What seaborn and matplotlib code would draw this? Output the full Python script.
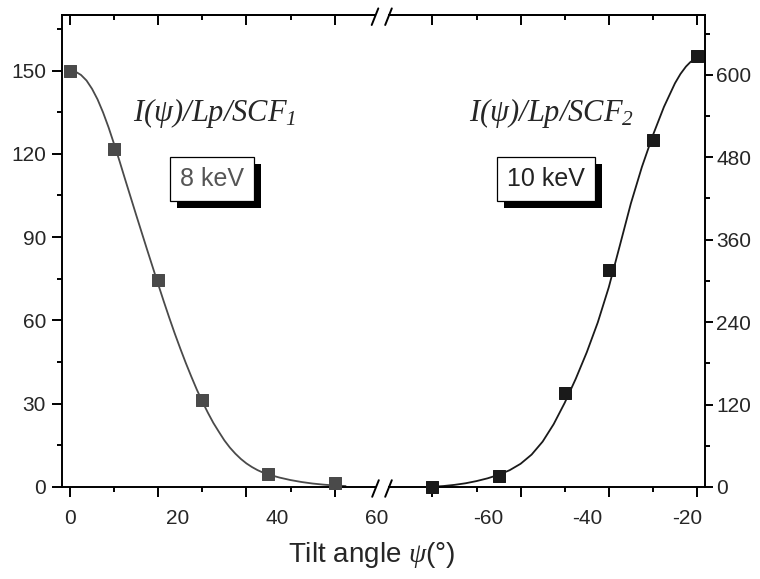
import numpy as np
import pandas as pd
import seaborn as sns
import matplotlib.pyplot as plt
import matplotlib.patheffects as pe
from matplotlib.lines import Line2D
from matplotlib.ticker import MultipleLocator
from matplotlib import transforms

# measured points (left: 8 keV, right: 10 keV)
psi_8kev = [0, 10, 20, 30, 45, 60]
int_8kev = [150, 121.8, 74.5, 31.3, 4.6, 1.3]
psi_10kev = [-80, -65, -50, -40, -30, -20]
int_10kev = [0.3, 16.5, 137, 316, 505, 628]

# fitted curves
fit_psi_8kev = [0, 1.25, 2.5, 3.75, 5, 6.25, 7.5, 8.75, 10, 11.25, 12.5, 13.75, 15,
                16.25, 17.5, 18.75, 20, 21.25, 22.5, 23.75, 25, 26.25, 27.5, 28.75,
                30, 31.25, 32.5, 33.75, 35, 36.25, 37.5, 38.75, 40, 41.25, 42.5,
                43.75, 45, 47.5, 50, 52.5, 55, 57.5, 60, 62.5]
fit_int_8kev = [150, 149.6, 148.4, 146.4, 143.4, 139.6, 134.9, 129.5, 123.5, 117.3,
                110.8, 104.4, 98.0, 91.7, 85.4, 79.2, 73.0, 66.9, 61.0, 55.3, 49.9,
                44.7, 39.8, 35.1, 30.8, 26.8, 23.1, 19.9, 16.8, 14.2, 12.0, 10.1, 8.5,
                7.2, 6.1, 5.2, 4.5, 3.4, 2.5, 1.8, 1.25, 0.85, 0.55, 0.35]
fit_psi_10kev = [-80, -77.5, -75, -72.5, -70, -67.5, -65, -62.5, -60, -57.5, -55,
                 -52.5, -50, -47.5, -45, -42.5, -40, -37.5, -35, -32.5, -30,
                 -27.5, -25, -23.75, -22.5, -21.5, -20.5]
fit_int_10kev = [0.3, 1.4, 3.1, 5.4, 8.6, 12.6, 17.7, 24.4, 33.8, 47.2, 66.1, 91.5,
                 122.5, 157.4, 196.0, 239.5, 290.8, 351.4, 412.6, 465.7, 512, 553.2,
                 587.6, 601.2, 612, 618.5, 623]

x_ticks_left = [0, 20, 40, 60]
x_ticks_right = [-80, -60, -40, -20]
x_labels_left = ['0', '20', '40', '60']
x_labels_right = ['-60', '-40', '-20']
y_ticks_left = [0, 30, 60, 90, 120, 150]
y_ticks_right = [0, 120, 240, 360, 480, 600]

sns.set_theme(style='ticks')
plt.rcParams['font.family'] = ['Liberation Sans', 'DejaVu Sans']
plt.rcParams['mathtext.fontset'] = 'custom'
plt.rcParams['mathtext.it'] = 'Liberation Serif:italic'
plt.rcParams['mathtext.rm'] = 'Liberation Serif:italic'

W, H = 760, 579
fig = plt.figure(figsize=(W / 100, H / 100), dpi=100)
ax1 = fig.add_axes([62 / W, 1 - 487 / H, (375 - 62) / W, 472 / H])
ax2 = fig.add_axes([389 / W, 1 - 487 / H, (705 - 389) / W, 472 / H])

c1, c2 = '#4a4a4a', '#1a1a1a'
sns.lineplot(x=fit_psi_8kev, y=fit_int_8kev, ax=ax1, color=c1, lw=1.3)
sns.scatterplot(x=psi_8kev, y=int_8kev, ax=ax1, marker='s', s=80, color=c1,
                edgecolor=c1, clip_on=False, zorder=4)
sns.lineplot(x=fit_psi_10kev, y=fit_int_10kev, ax=ax2, color=c2, lw=1.3)
sns.scatterplot(x=psi_10kev, y=int_10kev, ax=ax2, marker='s', s=80, color=c2,
                edgecolor=c2, clip_on=False, zorder=4)

px = 4.41  # pixels per degree on both segments
ax1.set_xlim(-8 / px, (375 - 70) / px)
ax2.set_xlim(-20 - (697 - 389) / px, -20 + 8 / px)
ax1.set_ylim(0, 170)
ax2.set_ylim(0, 687)

lw = 1.4
for ax, side in ((ax1, 'right'), (ax2, 'left')):
    ax.set_xlabel('')
    ax.set_ylabel('')
    ax.spines[side].set_visible(False)
    for s in ax.spines.values():
        s.set_linewidth(lw)
        s.set_color('black')
    ax.tick_params(axis='x', which='both', direction='out', bottom=True, top=False,
                   labelbottom=False, width=lw, color='black')
    ax.tick_params(axis='x', which='major', length=7)
    ax.tick_params(axis='x', which='minor', length=3.5)
    ax.xaxis.set_minor_locator(MultipleLocator(10))

ax1.set_xticks(x_ticks_left)
ax2.set_xticks(x_ticks_right)

# top spine ticks point inwards
for ax, ticks in ((ax1, x_ticks_left), (ax2, x_ticks_right)):
    sec = ax.secondary_xaxis('top')
    sec.set_xticks(ticks)
    sec.xaxis.set_minor_locator(MultipleLocator(10))
    sec.tick_params(which='both', direction='in', labeltop=False, width=lw, color='black')
    sec.tick_params(which='major', length=7)
    sec.tick_params(which='minor', length=3.5)
    sec.spines['top'].set_linewidth(lw)

ax1.set_yticks(y_ticks_left)
ax1.yaxis.set_minor_locator(MultipleLocator(15))
ax1.tick_params(axis='y', which='both', direction='out', left=True, right=False,
                width=lw, labelsize=15, pad=4.5, color='black')
ax1.tick_params(axis='y', which='major', length=7)
ax1.tick_params(axis='y', which='minor', length=3.5)

ax2.set_yticks(y_ticks_right)
ax2.yaxis.set_minor_locator(MultipleLocator(60))
ax2.yaxis.tick_right()
ax2.tick_params(axis='y', which='both', direction='out', left=False, right=True,
                width=lw, labelsize=15, pad=2, color='black')
ax2.tick_params(axis='y', which='major', length=6)
ax2.tick_params(axis='y', which='minor', length=3.5)

# x tick labels sit where the original placed them
label_y = 1 - 519 / H
for ax, labels, pos in ((ax1, x_labels_left, [0, 24.5, 46.9, 69.6]),
                        (ax2, x_labels_right, [-67.4, -44.9, -22.3])):
    tr = transforms.blended_transform_factory(ax.transData, fig.transFigure)
    for lab, p in zip(labels, pos):
        ax.text(p, label_y, lab, transform=tr, ha='center', va='center', fontsize=15)

fig.text(372 / W, 1 - 555 / H, r'Tilt angle $\psi$(°)', ha='center', va='center', fontsize=20)

# series labels
fig.text(215 / W, 1 - 113 / H, r'$I(\psi)/Lp/SCF_1$', ha='center', va='center', fontsize=22)
fig.text(552 / W, 1 - 113 / H, r'$I(\psi)/Lp/SCF_2$', ha='center', va='center', fontsize=22)

# energy boxes with drop shadow
for cx, txt, tc in ((212, '8 keV', '#555555'), (546, '10 keV', '#222222')):
    t = fig.text(cx / W, 1 - 179 / H, txt, ha='center', va='center', fontsize=18, color=tc,
                 bbox=dict(boxstyle='square,pad=0.4', fc='white', ec='black', lw=0.9))
    t.get_bbox_patch().set_path_effects([
        pe.SimplePatchShadow(offset=(5, -5), shadow_rgbFace='black', alpha=1.0),
        pe.Normal()])

# axis break marks
for cx, cy in ((375, 16.7), (388.5, 16.7), (375.5, 488.5), (388.5, 488.5)):
    fig.add_artist(Line2D([(cx - 3.3) / W, (cx + 3.3) / W],
                          [1 - (cy + 8.3) / H, 1 - (cy - 8.3) / H],
                          transform=fig.transFigure, color='black', lw=lw))

fig.savefig('out.png', dpi=100)
